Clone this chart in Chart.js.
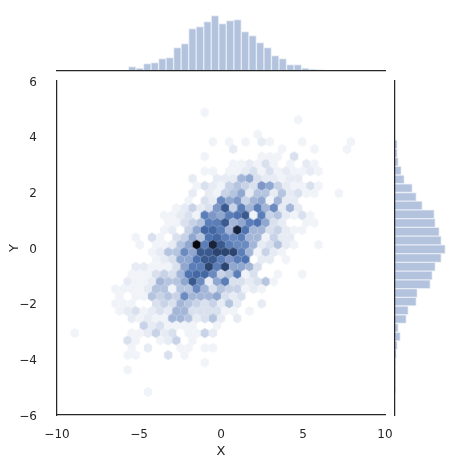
<!DOCTYPE html>
<html>
<head>
<meta charset="utf-8">
<title>Hexbin joint plot</title>
<script src="https://cdn.jsdelivr.net/npm/chart.js"></script>
<style>
	html, body { margin: 0; padding: 0; background: #fff; }
	canvas { position: absolute; left: 0; top: 0; }
</style>
</head>
<body>
<canvas id="topHist" width="465" height="467"></canvas>
<canvas id="rightHist" width="465" height="467"></canvas>
<canvas id="hexPlot" width="465" height="467"></canvas>
<script>
// hexbin rows: y of the row, x of its first cell, then the count in each cell
const hexRowY = [4.874, 4.610, 4.081, 3.817, 3.552, 3.288, 3.023, 2.759, 2.495, 2.230, 1.966, 1.701, 1.437, 1.173, 0.908, 0.644, 0.379, 0.115, -0.149, -0.414, -0.678, -0.943, -1.207, -1.471, -1.736, -2.000, -2.265, -2.529, -2.793, -3.058, -3.322, -3.587, -3.851, -4.115, -4.380, -5.173];
const hexRowX = [-0.991, 4.707, 2.230, -0.495, 0.744, -0.991, 0.744, -0.991, -1.733, -1.486, -1.733, -1.981, -2.724, -3.468, -3.220, -3.468, -5.201, -4.954, -4.210, -3.963, -5.201, -5.449, -5.697, -6.440, -6.192, -6.440, -6.192, -5.449, -4.706, -8.917, -5.697, -5.449, -5.697, -0.991, -5.697, -4.458];
const hexRowCounts = [
	[1],
	[1],
	[1],
	[1,0,1,0,1,0,2,1,0,0,0,1,0,0,0,0,0,1],
	[2,0,0,0,0,0,1,0,0,0,1,0,0,0,1],
	[1,0,0,0,0,0,0,1,1,1,0,3],
	[1,1,2,1,3,1,0,1,0,2,1],
	[1,1,0,1,1,2,3,1,3,1,2,1,1,2,1],
	[2,0,0,2,2,2,6,7,3,2,2,1,2,2],
	[1,3,2,1,4,5,4,3,8,7,4,2,1,1,3,1],
	[2,0,2,1,4,5,7,2,5,5,2,5,2,3,1,1,0,0,1],
	[1,0,3,2,9,7,8,4,6,7,1,6,2,2],
	[1,2,4,2,3,8,13,4,10,6,10,6,9,2,6,2],
	[1,1,2,3,1,10,8,7,10,11,13,1,10,4,5,2,1,3,1],
	[1,1,3,4,5,10,10,13,6,7,10,11,7,3,2,0,0,1,1],
	[1,2,0,4,7,12,12,10,6,15,11,6,6,3,4,2,1,1],
	[1,0,3,1,0,3,4,7,5,11,12,10,9,10,6,6,1,4,2,2],
	[1,0,1,1,2,5,7,16,10,15,13,10,9,9,6,2,3,5,2,1,0,0,1],
	[1,2,5,5,9,7,13,13,14,14,14,10,6,1,4,2,1],
	[1,2,3,7,7,11,13,13,10,8,10,11,0,2,2,0,1],
	[2,2,1,1,1,3,7,10,10,14,10,14,7,7,6,3],
	[1,1,1,3,4,3,6,11,12,12,9,4,5,10,1,3,0,0,1,0,0,1],
	[2,1,1,2,6,5,5,7,13,9,2,7,10,3,3,2,3,5,1],
	[1,1,1,1,2,5,5,1,5,5,9,6,3,5,4,4,1,2,1],
	[1,0,1,1,5,4,5,4,9,6,6,6,7,3,2,3],
	[1,1,1,0,0,3,4,3,6,5,4,3,4,2,5,2,0,0,2],
	[1,2,3,1,2,3,2,6,6,3,3,3,3,1,1,0,1],
	[2,1,2,1,1,6,6,5,2,3,5,2,0,2],
	[4,2,3,1,1,1,1,0,0,1],
	[1,0,0,0,0,0,0,1,1,2,4,2,3,0,1,1,4,2],
	[3,1,0,0,1,2,4,0,1],
	[1,0,2,0,0,0,1,1,0,1,1],
	[1,1,0,0,0,3,0,1],
	[1],
	[1],
	[1]
];
const hexStepX = 0.4954;
// colour for each count, index 0 unused
const hexColors = ['#ffffff','#f0f3f8','#e6ebf4','#d9e0ee','#c8d3e7','#b6c5df','#a4b6d7','#90a7cf','#7e97c7','#6b8abf','#5c7eb8','#4f73b1','#4468a3','#3a5a8f','#2c4570','#18243d','#05090f'];

const topBinX = [-8.63, -6.79, -6.33, -5.415, -4.956, -4.497, -4.038, -3.579, -3.12, -2.661, -2.202, -1.743, -1.284, -0.825, -0.366, 0.093, 0.552, 1.011, 1.47, 1.929, 2.388, 2.847, 3.306, 3.765, 4.224, 4.683, 5.142, 5.601, 6.06, 6.52, 7.43, 7.89];
const topBinCounts = [1, 1, 1, 13, 9, 22, 25, 37, 40, 70, 82, 127, 133, 148, 166, 142, 151, 154, 118, 106, 85, 70, 46, 37, 19, 19, 9, 6, 4, 1, 1, 1];

const rightBinY = [3.723, 3.409, 3.095, 2.781, 2.467, 2.153, 1.839, 1.525, 1.211, 0.897, 0.583, 0.269, -0.045, -0.359, -0.673, -0.987, -1.301, -1.615, -1.929, -2.243, -2.557, -2.871, -3.185, -3.499, -3.813, -4.127, -4.441, -4.755, -5.069];
const rightBinCounts = [7, 7, 10, 19, 28, 52, 64, 82, 118, 121, 133, 139, 151, 139, 121, 112, 106, 67, 64, 40, 34, 10, 16, 7, 4, 1, 1, 1, 1];

const xTicks = [-10, -5, 0, 5, 10];
const yTicks = [-6, -4, -2, 0, 2, 4, 6];

const inkColor = '#262626';
const barColor = '#b3c3de';
const barEdge = '#e6ebf4';
const fontName = '"DejaVu Sans", sans-serif';

function minusLabel(v) {
	return String(v).replace('-', '\u2212');
}

// one small hexagon picture per colour, used as point style
function makeHexSprite(color) {
	let c = document.createElement('canvas');
	c.width = 12;
	c.height = 12;
	let g = c.getContext('2d');
	let hw = 4.15, hh = 4.95;
	g.fillStyle = color;
	g.beginPath();
	g.moveTo(6, 6 - hh);
	g.lineTo(6 + hw, 6 - hh / 2);
	g.lineTo(6 + hw, 6 + hh / 2);
	g.lineTo(6, 6 + hh);
	g.lineTo(6 - hw, 6 + hh / 2);
	g.lineTo(6 - hw, 6 - hh / 2);
	g.closePath();
	g.fill();
	return c;
}
const hexSprites = hexColors.map(makeHexSprite);

let hexPoints = [];
for (let r = 0; r < hexRowY.length; r++) {
	hexRowCounts[r].forEach(function(n, i) {
		if (n > 0) hexPoints.push({ x: hexRowX[r] + i * hexStepX, y: hexRowY[r], n: n });
	});
}

Chart.defaults.animation = false;
Chart.defaults.responsive = false;
Chart.defaults.font.family = fontName;
Chart.defaults.plugins.legend.display = false;
Chart.defaults.plugins.tooltip.enabled = false;

new Chart(document.getElementById('hexPlot'), {
	type: 'scatter',
	data: {
		datasets: [{
			data: hexPoints,
			pointRadius: 5,
			pointStyle: function(ctx) { return ctx.raw ? hexSprites[ctx.raw.n] : 'circle'; }
		}]
	},
	options: {
		layout: { padding: { top: 81, right: 80 } },
		scales: {
			x: {
				type: 'linear',
				min: -10,
				max: 10,
				afterBuildTicks: function(s) { s.ticks = xTicks.map(function(v) { return { value: v }; }); },
				afterFit: function(s) { s.height = 52; },
				grid: { display: false },
				border: { color: inkColor, width: 1.25 },
				ticks: { color: inkColor, font: { size: 12 }, padding: 5, maxRotation: 0, callback: minusLabel },
				title: { display: true, text: 'X', color: inkColor, font: { size: 13 }, padding: { top: 0, bottom: 8 } }
			},
			y: {
				type: 'linear',
				min: -6,
				max: 6,
				afterBuildTicks: function(s) { s.ticks = yTicks.map(function(v) { return { value: v }; }); },
				afterFit: function(s) { s.width = 57; },
				grid: { display: false },
				border: { color: inkColor, width: 1.25 },
				ticks: { color: inkColor, font: { size: 12 }, padding: 12, labelOffset: 1.5, callback: minusLabel },
				title: { display: true, text: 'Y', color: inkColor, font: { size: 13 }, padding: { top: 7, bottom: 0 } }
			}
		}
	}
});

new Chart(document.getElementById('topHist'), {
	type: 'bar',
	data: {
		datasets: [{
			data: topBinX.map(function(x, i) { return { x: x, y: topBinCounts[i] }; }),
			backgroundColor: barColor,
			borderColor: barEdge,
			borderWidth: 1,
			barThickness: 7.5
		}]
	},
	options: {
		layout: { padding: { left: 57, right: 80, top: 13, bottom: 396 } },
		scales: {
			x: {
				type: 'linear',
				offset: false,
				min: -10,
				max: 10,
				afterFit: function(s) { s.height = 0; },
				grid: { display: false, drawTicks: false },
				border: { color: inkColor, width: 1.25, z: 1 },
				ticks: { display: false }
			},
			y: { display: false, min: 0, max: 174 }
		}
	}
});

new Chart(document.getElementById('rightHist'), {
	type: 'bar',
	data: {
		datasets: [{
			data: rightBinY.map(function(y, i) { return { x: rightBinCounts[i], y: y }; }),
			backgroundColor: barColor,
			borderColor: barEdge,
			borderWidth: 1,
			barThickness: 8.7
		}]
	},
	options: {
		indexAxis: 'y',
		layout: { padding: { left: 395, right: 17, top: 81, bottom: 52 } },
		scales: {
			x: { display: false, min: 0, max: 159 },
			y: {
				type: 'linear',
				offset: false,
				min: -6,
				max: 6,
				afterFit: function(s) { s.width = 0; },
				grid: { display: false, drawTicks: false },
				border: { color: inkColor, width: 1.25, z: 1 },
				ticks: { display: false }
			}
		}
	}
});
</script>
</body>
</html>
